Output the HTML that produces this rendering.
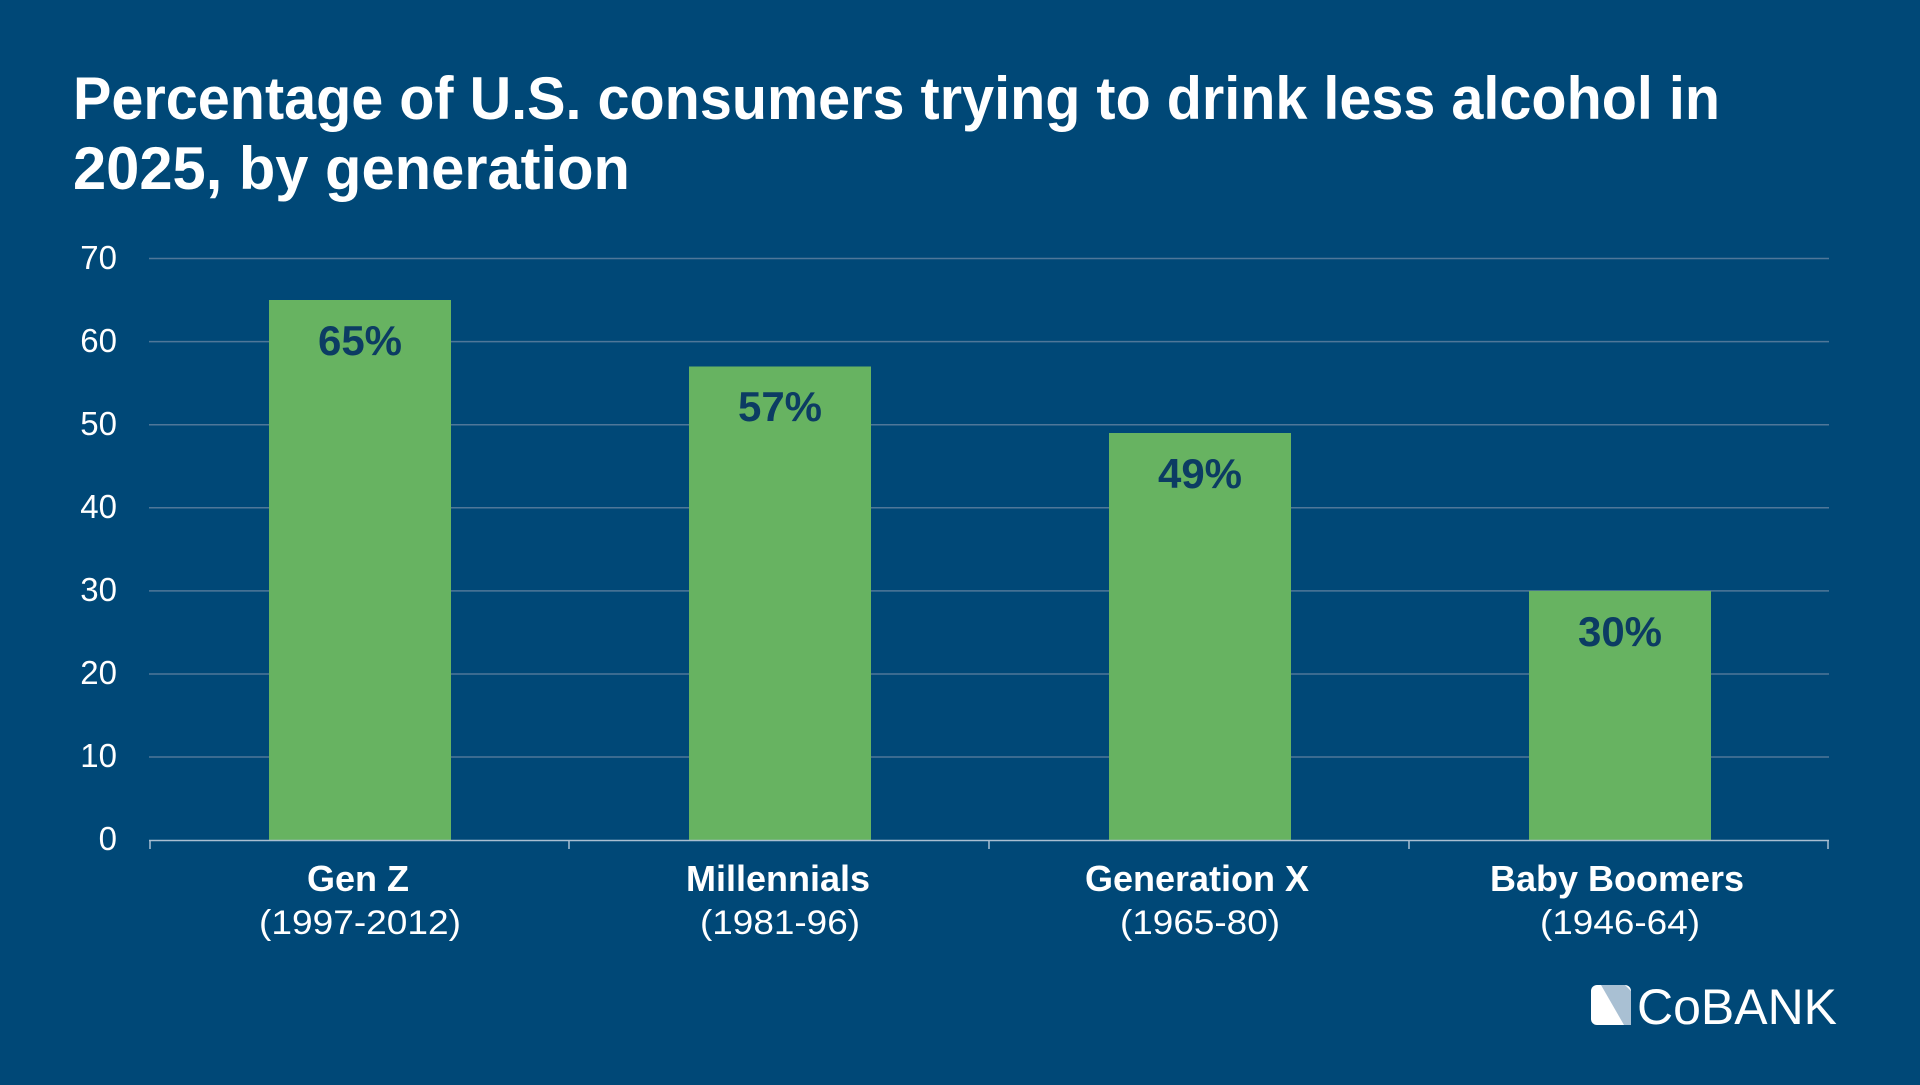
<!DOCTYPE html>
<html><head><meta charset="utf-8"><style>
html,body{margin:0;padding:0;}
body{width:1920px;height:1080px;background:#004877;overflow:hidden;font-family:"Liberation Sans",sans-serif;}
</style></head><body>
<svg width="1920" height="1080" xmlns="http://www.w3.org/2000/svg" font-family="Liberation Sans, sans-serif">
<rect width="1920" height="1080" fill="#004877"/>
<text x="73" y="119" fill="#fff" font-size="60" font-weight="bold" textLength="1647" lengthAdjust="spacingAndGlyphs">Percentage of U.S. consumers trying to drink less alcohol in</text>
<text x="73" y="189" fill="#fff" font-size="60" font-weight="bold" textLength="557" lengthAdjust="spacingAndGlyphs">2025, by generation</text>
<g stroke="#4f7799" stroke-width="1.5">
<line x1="149" x2="1829" y1="258.5" y2="258.5"/>
<line x1="149" x2="1829" y1="341.6" y2="341.6"/>
<line x1="149" x2="1829" y1="424.7" y2="424.7"/>
<line x1="149" x2="1829" y1="507.8" y2="507.8"/>
<line x1="149" x2="1829" y1="590.9" y2="590.9"/>
<line x1="149" x2="1829" y1="674" y2="674"/>
<line x1="149" x2="1829" y1="757" y2="757"/>
</g>
<g fill="#fff" font-size="33" text-anchor="end">
<text x="117" y="269">70</text><text x="117" y="352">60</text><text x="117" y="435">50</text><text x="117" y="518">40</text><text x="117" y="601">30</text><text x="117" y="684">20</text><text x="117" y="767">10</text><text x="117" y="850">0</text>
</g>
<g fill="#67b361">
<rect x="269" y="300" width="182" height="540"/>
<rect x="689" y="366.5" width="182" height="473.5"/>
<rect x="1109" y="433" width="182" height="407"/>
<rect x="1529" y="590.9" width="182" height="249.1"/>
</g>
<g stroke="#a9bfd2" stroke-width="1.5">
<line x1="149" x2="1829" y1="840.5" y2="840.5"/>
<line x1="150" x2="150" y1="840" y2="849"/><line x1="569" x2="569" y1="840" y2="849"/><line x1="989" x2="989" y1="840" y2="849"/><line x1="1409" x2="1409" y1="840" y2="849"/><line x1="1828" x2="1828" y1="840" y2="849"/>
</g>
<g fill="#0c3c63" font-size="42" font-weight="bold" text-anchor="middle">
<text x="360" y="355">65%</text><text x="780" y="421">57%</text><text x="1200" y="488">49%</text><text x="1620" y="646">30%</text>
</g>
<g fill="#fff" text-anchor="middle">
<g font-size="36" font-weight="bold"><text x="358" y="891">Gen Z</text><text x="778" y="891">Millennials</text><text x="1197" y="891">Generation X</text><text x="1617" y="891">Baby Boomers</text></g>
<g font-size="34"><text x="360" y="934" textLength="202" lengthAdjust="spacingAndGlyphs">(1997-2012)</text><text x="780" y="934" textLength="160" lengthAdjust="spacingAndGlyphs">(1981-96)</text><text x="1200" y="934" textLength="160" lengthAdjust="spacingAndGlyphs">(1965-80)</text><text x="1620" y="934" textLength="160" lengthAdjust="spacingAndGlyphs">(1946-64)</text></g>
</g>
<g transform="translate(1591,985)">
<rect x="0" y="0" width="40" height="40" rx="6" fill="#fff"/>
<polygon points="10,0 34,0 40,6 40,40 33,40" fill="#a9c0d3"/>
<text x="46" y="39" fill="#fff" font-size="50" textLength="200" lengthAdjust="spacingAndGlyphs">CoBANK</text>
</g>
</svg>
</body></html>
